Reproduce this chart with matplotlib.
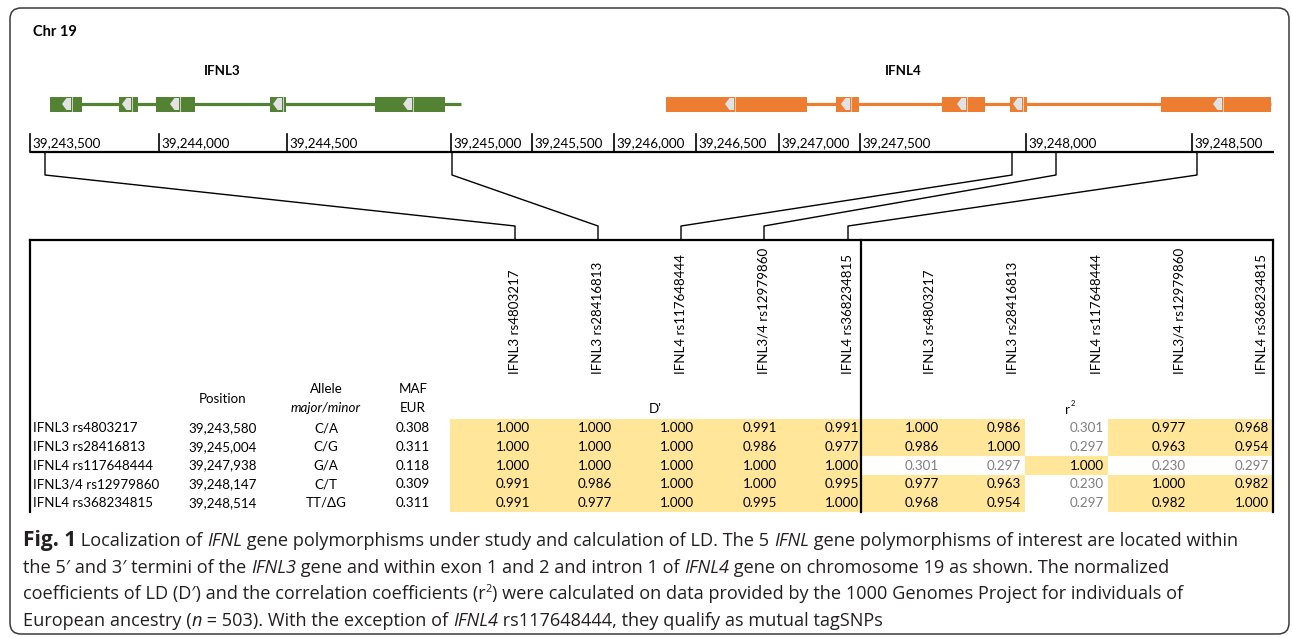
import numpy as np
import matplotlib
matplotlib.use("Agg")
import matplotlib.pyplot as plt
from matplotlib.patches import Rectangle, Polygon, FancyBboxPatch
from matplotlib.font_manager import FontProperties

# ---------------- data ----------------
snp_names = ["IFNL3 rs4803217", "IFNL3 rs28416813", "IFNL4 rs117648444",
             "IFNL3/4 rs12979860", "IFNL4 rs368234815"]
snp_positions = ["39,243,580", "39,245,004", "39,247,938", "39,248,147", "39,248,514"]
snp_alleles = ["C/A", "C/G", "G/A", "C/T", "TT/\u0394G"]
snp_maf = [0.308, 0.311, 0.118, 0.309, 0.311]

dprime = [[1.000, 1.000, 1.000, 0.991, 0.991],
          [1.000, 1.000, 1.000, 0.986, 0.977],
          [1.000, 1.000, 1.000, 1.000, 1.000],
          [0.991, 0.986, 1.000, 1.000, 0.995],
          [0.991, 0.977, 1.000, 0.995, 1.000]]
r2 = [[1.000, 0.986, 0.301, 0.977, 0.968],
      [0.986, 1.000, 0.297, 0.963, 0.954],
      [0.301, 0.297, 1.000, 0.230, 0.297],
      [0.977, 0.963, 0.230, 1.000, 0.982],
      [0.968, 0.954, 0.297, 0.982, 1.000]]

ruler_labels = ["39,243,500", "39,244,000", "39,244,500", "39,245,000", "39,245,500",
                "39,246,000", "39,246,500", "39,247,000", "39,247,500", "39,248,000",
                "39,248,500"]

# gene models (exon extents along the drawn ruler, in figure pixels)
ifnl3_exons = [(50, 82), (119, 138), (156, 195), (270, 286), (375, 445)]
ifnl3_arrows = [62, 122, 170, 273, 403]
ifnl3_span = (50, 461)
ifnl4_exons = [(666, 807), (836, 859), (942, 985), (1010, 1027), (1161, 1271)]
ifnl4_arrows = [725, 841, 957, 1013, 1213]
ifnl4_span = (666, 1271)

# ---------------- layout ----------------
W, H = 1292, 637
fig = plt.figure(figsize=(W / 100, H / 100), dpi=100)
ax = fig.add_axes([0, 0, 1, 1])
ax.set_xlim(0, W)
ax.set_ylim(H, 0)
ax.axis("off")
renderer = fig.canvas.get_renderer()

TFONT = ["Lato", "DejaVu Sans"]
CFONT = ["Open Sans", "DejaVu Sans"]
TS = 9.6
BLACK = "#000000"
GREEN = "#548235"
ORANGE = "#ED7D31"
YELLOW = "#FFE699"
GRAYTXT = "#7F7F7F"
ARROWC = "#E2E2E2"

# outer rounded frame
frame = FancyBboxPatch((10, 8), 1279, 626, boxstyle="round,pad=0,rounding_size=11",
                       fc="white", ec="#3a3a3a", lw=1.1, zorder=0)
ax.add_patch(frame)

ax.text(33, 32, "Chr 19", family=TFONT, fontsize=10.5, fontweight="bold",
        va="center", ha="left", color=BLACK)
ax.text(222, 71, "IFNL3", family=TFONT, fontsize=TS, fontweight="bold",
        va="center", ha="center", color=BLACK)
ax.text(903, 71, "IFNL4", family=TFONT, fontsize=TS, fontweight="bold",
        va="center", ha="center", color=BLACK)


def draw_gene(span, exons, arrows, color, yc=104):
    ax.plot(span, [yc, yc], color=color, lw=2.3, solid_capstyle="butt", zorder=2)
    for (a, b) in exons:
        ax.add_patch(Rectangle((a, yc - 7.5), b - a, 15, fc=color, ec="none", zorder=3))
    for xa in arrows:
        w, h = 9, 12
        pts = [(xa, yc), (xa + 4.5, yc - h / 2), (xa + w, yc - h / 2),
               (xa + w, yc + h / 2), (xa + 4.5, yc + h / 2)]
        ax.add_patch(Polygon(pts, closed=True, fc=ARROWC, ec="none", zorder=4))
        ax.plot([xa + w + 1, xa + w + 1], [yc - 7.5, yc + 7.5], color="white",
                lw=0.6, alpha=0.8, zorder=4)


draw_gene(ifnl3_span, ifnl3_exons, ifnl3_arrows, GREEN)
draw_gene(ifnl4_span, ifnl4_exons, ifnl4_arrows, ORANGE)

# ruler
ruler_x = [30, 159, 287, 451, 532, 614, 696, 779, 860, 1026, 1192]
RY = 152
ax.plot([30, 1274], [RY, RY], color=BLACK, lw=1.6, solid_capstyle="butt", zorder=3)
for lab, xt in zip(ruler_labels, ruler_x):
    ax.plot([xt, xt], [134, RY], color=BLACK, lw=1.2, zorder=3)
    ax.text(xt + 2, 143.5, lab, family=TFONT, fontsize=TS, va="center", ha="left",
            color=BLACK)

# connectors from ruler to table columns
conn_top = [45, 452, 1012, 1056, 1197]
col_anchor = [515, 598, 681, 764, 848]
for xt, xb in zip(conn_top, col_anchor):
    ax.plot([xt, xt, xb, xb], [RY, 175, 226, 240], color=BLACK, lw=1.0, zorder=2)

# table
TL, TR, TT, TB = 30, 1273, 240, 512
DIV = 861
d_edges = [450, 532, 614, 696, 779, 861]
r_edges = [861, 943, 1025, 1108, 1190, 1273]
row_top = 419
row_h = 18.6

for i in range(5):
    y0 = row_top + i * row_h
    yc = y0 + row_h / 2
    for j in range(5):
        ax.add_patch(Rectangle((d_edges[j], y0), d_edges[j + 1] - d_edges[j], row_h,
                               fc=YELLOW, ec="none", zorder=1))
        ax.text(d_edges[j + 1] - 2, yc, f"{dprime[i][j]:.3f}", family=TFONT, fontsize=TS,
                ha="right", va="center", color=BLACK, zorder=3)
        v = r2[i][j]
        hi = v >= 0.8
        if hi:
            ax.add_patch(Rectangle((r_edges[j], y0), r_edges[j + 1] - r_edges[j], row_h,
                                   fc=YELLOW, ec="none", zorder=1))
        ax.text(r_edges[j + 1] - 4, yc, f"{v:.3f}", family=TFONT, fontsize=TS,
                ha="right", va="center", color=BLACK if hi else GRAYTXT, zorder=3)
    ax.text(33, yc, snp_names[i], family=TFONT, fontsize=TS, ha="left", va="center",
            color=BLACK)
    ax.text(223, yc, snp_positions[i], family=TFONT, fontsize=TS, ha="center",
            va="center", color=BLACK)
    ax.text(326, yc, snp_alleles[i], family=TFONT, fontsize=TS, ha="center",
            va="center", color=BLACK)
    ax.text(413, yc, f"{snp_maf[i]:.3f}", family=TFONT, fontsize=TS, ha="center",
            va="center", color=BLACK)

# table borders
ax.plot([TL, TR], [TT, TT], color=BLACK, lw=1.6, solid_capstyle="projecting", zorder=4)
ax.plot([TL, TL], [TT, TB], color=BLACK, lw=1.6, zorder=4)
ax.plot([TR, TR], [TT, TB], color=BLACK, lw=1.6, zorder=4)
ax.plot([DIV, DIV], [TT, TB], color=BLACK, lw=1.6, zorder=4)

# header
ax.text(223, 399, "Position", family=TFONT, fontsize=TS, ha="center", va="center")
ax.text(326, 389, "Allele", family=TFONT, fontsize=TS, ha="center", va="center")
ax.text(326, 408, "major/minor", family=TFONT, fontsize=TS, ha="center", va="center",
        style="italic")
ax.text(413, 389, "MAF", family=TFONT, fontsize=TS, ha="center", va="center")
ax.text(413, 408, "EUR", family=TFONT, fontsize=TS, ha="center", va="center")
ax.text(655, 409, "D'", family=TFONT, fontsize=TS, ha="center", va="center")
ax.text(1067, 410, "r", family=TFONT, fontsize=TS, ha="center", va="center")
ax.text(1071, 403, "2", family=TFONT, fontsize=5.5, ha="left", va="center")

r_anchor = [930, 1013, 1097, 1179, 1262]
for j in range(5):
    ax.text(col_anchor[j], 374, snp_names[j], family=TFONT, fontsize=TS, rotation=90,
            ha="center", va="bottom", color=BLACK)
    ax.text(r_anchor[j], 374, snp_names[j], family=TFONT, fontsize=TS, rotation=90,
            ha="center", va="bottom", color=BLACK)

# caption with mixed styles
CS = 13.1
CCOL = "#231F20"


def measure(s, fp):
    w1, _, _ = renderer.get_text_width_height_descent("|" + s + "|", fp, ismath=False)
    w0, _, _ = renderer.get_text_width_height_descent("||", fp, ismath=False)
    return w1 - w0


def rich_line(x, y, pieces):
    for txt, sty in pieces:
        size = CS
        dy = 0
        weight = "normal"
        style = "normal"
        if sty == "b":
            weight = "bold"
            size = CS * 1.15
        elif sty == "i":
            style = "italic"
        elif sty == "sup":
            size = CS * 0.6
            dy = -7
        fp = FontProperties(family=CFONT, size=size, weight=weight, style=style)
        ax.text(x, y + dy, txt, fontproperties=fp, ha="left", va="baseline", color=CCOL)
        x += measure(txt, fp)


cap_lines = [
    [("Fig. 1", "b"), (" Localization of ", "n"), ("IFNL", "i"),
     (" gene polymorphisms under study and calculation of LD. The 5 ", "n"), ("IFNL", "i"),
     (" gene polymorphisms of interest are located within", "n")],
    [("the 5\u2032 and 3\u2032 termini of the ", "n"), ("IFNL3", "i"),
     (" gene and within exon 1 and 2 and intron 1 of ", "n"), ("IFNL4", "i"),
     (" gene on chromosome 19 as shown. The normalized", "n")],
    [("coefficients of LD (D\u2032) and the correlation coefficients (r", "n"), ("2", "sup"),
     (") were calculated on data provided by the 1000 Genomes Project for individuals of", "n")],
    [("European ancestry (", "n"), ("n", "i"), (" = 503). With the exception of ", "n"),
     ("IFNL4", "i"), (" rs117648444, they qualify as mutual tagSNPs", "n")],
]
baselines = [546, 573, 599, 626]
for pieces, yb in zip(cap_lines, baselines):
    rich_line(23, yb, pieces)

fig.savefig("out.png", dpi=100)
